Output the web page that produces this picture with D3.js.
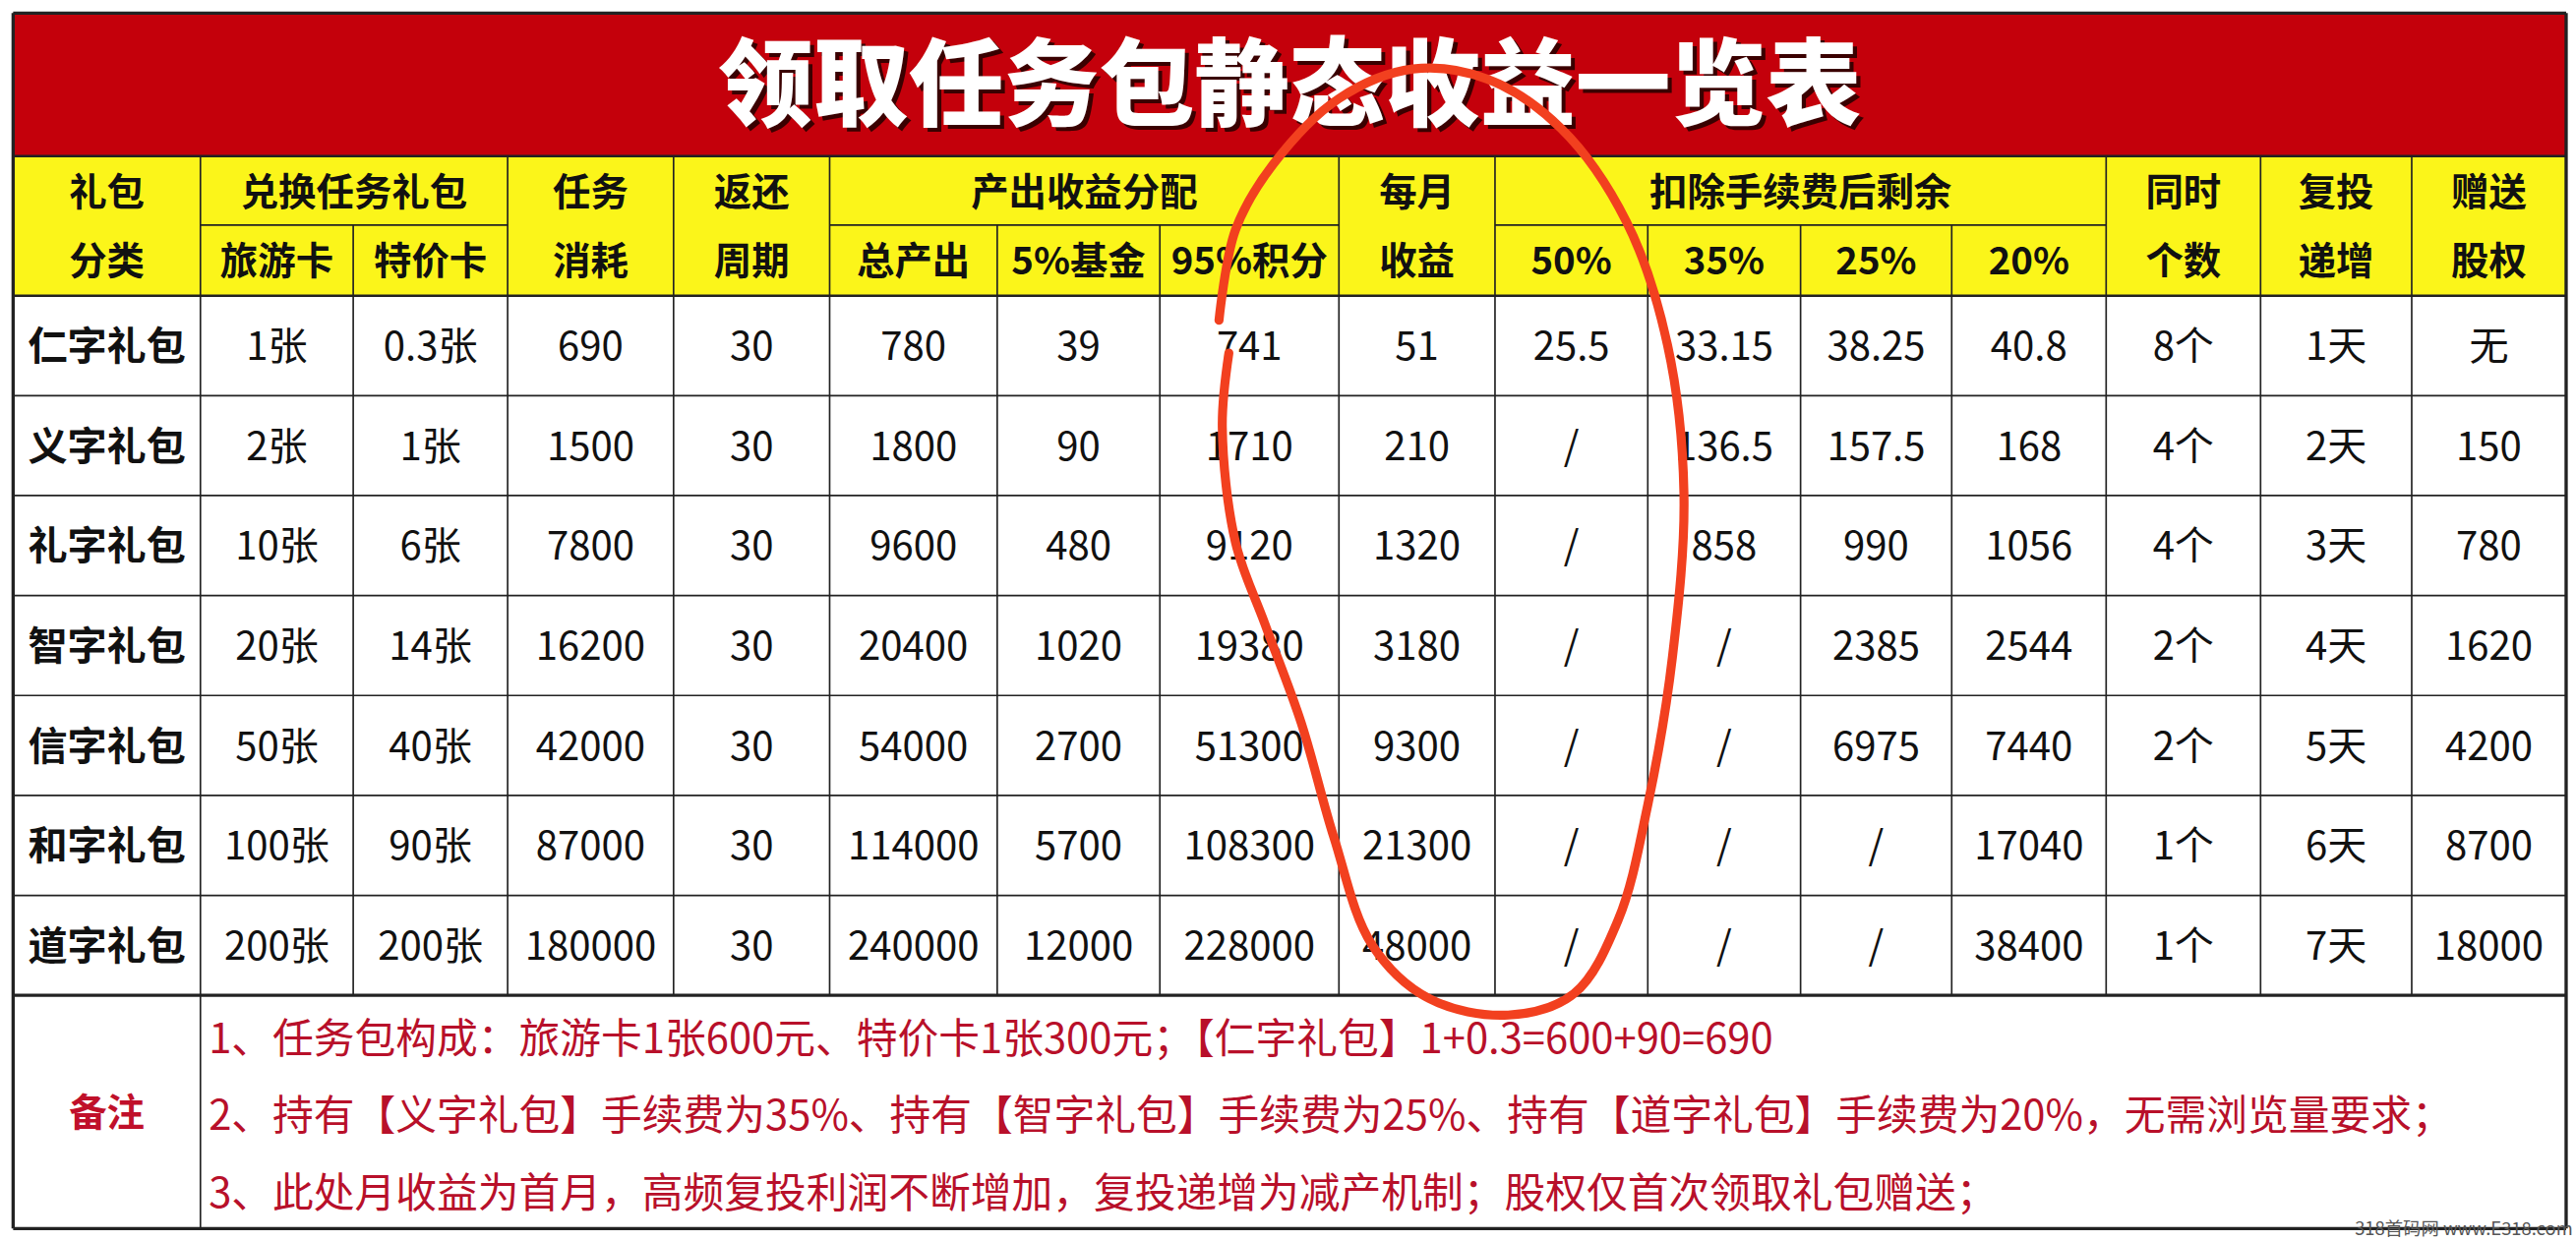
<!DOCTYPE html>
<html><head><meta charset="utf-8">
<script src="https://cdn.jsdelivr.net/npm/d3@7"></script>
<style>body{margin:0;background:#fff}svg{display:block}</style>
</head><body>
<script>
// data
const title = "领取任务包静态收益一览表";
const packages = ["仁字礼包","义字礼包","礼字礼包","智字礼包","信字礼包","和字礼包","道字礼包"];
const travelCard = ["1张","2张","10张","20张","50张","100张","200张"];
const specialCard = ["0.3张","1张","6张","14张","40张","90张","200张"];
const taskCost = ["690","1500","7800","16200","42000","87000","180000"];
const cycle = ["30","30","30","30","30","30","30"];
const totalOut = ["780","1800","9600","20400","54000","114000","240000"];
const fund5 = ["39","90","480","1020","2700","5700","12000"];
const points95 = ["741","1710","9120","19380","51300","108300","228000"];
const monthly = ["51","210","1320","3180","9300","21300","48000"];
const fee50 = ["25.5","/","/","/","/","/","/"];
const fee35 = ["33.15","136.5","858","/","/","/","/"];
const fee25 = ["38.25","157.5","990","2385","6975","/","/"];
const fee20 = ["40.8","168","1056","2544","7440","17040","38400"];
const count = ["8个","4个","4个","2个","2个","1个","1个"];
const reinvest = ["1天","2天","3天","4天","5天","6天","7天"];
const equity = ["无","150","780","1620","4200","8700","18000"];
const notes = [
  "1、任务包构成：旅游卡1张600元、特价卡1张300元；【仁字礼包】1+0.3=600+90=690",
  "2、持有【义字礼包】手续费为35%、持有【智字礼包】手续费为25%、持有【道字礼包】手续费为20%，无需浏览量要求；",
  "3、此处月收益为首月，高频复投利润不断增加，复投递增为减产机制；股权仅首次领取礼包赠送；"
];
const columns = [packages,travelCard,specialCard,taskCost,cycle,totalOut,fund5,points95,monthly,fee50,fee35,fee25,fee20,count,reinvest,equity];

// layout (in reference units, scaled up)
const S = 2619/1568;
const colEdges = [8,122,215,309,410,505,607,706,815,910,1003,1096,1188,1282,1376,1468,1562];
const yTitle = [8,95], yH1 = 137, yH2 = 180, yRowsEnd = 606, yEnd = 748;
const font = "'Noto Sans CJK SC','Noto Sans',sans-serif";

const svg = d3.select("body").append("svg").attr("width",2619).attr("height",1262);
const g = svg.append("g").attr("transform",`scale(${S})`);

const y = d3.scaleBand().domain(packages).range([yH2,yRowsEnd]);
const L = colEdges[0], R = colEdges[colEdges.length-1];

// backgrounds
g.append("rect").attr("x",L).attr("y",yTitle[0]).attr("width",R-L).attr("height",yTitle[1]-yTitle[0]).attr("fill","#c4000b");
g.append("rect").attr("x",L).attr("y",yTitle[1]).attr("width",R-L).attr("height",yH2-yTitle[1]).attr("fill","#fbf51a");

// title
g.append("text").attr("x",(L+R)/2+2.5).attr("y",74.5).attr("text-anchor","middle")
  .style("font-family",font).style("font-weight",900).style("font-size","58px").attr("fill","#3a0000").text(title);
g.append("text").attr("x",(L+R)/2).attr("y",72).attr("text-anchor","middle")
  .style("font-family",font).style("font-weight",900).style("font-size","58px").attr("fill","#fff").text(title);

// header cells
const cx = i => (colEdges[i]+colEdges[i+1])/2;
const spanX = (a,b) => (colEdges[a]+colEdges[b+1])/2;
const hdr = [];
[[0,"礼包","分类"],[3,"任务","消耗"],[4,"返还","周期"],[8,"每月","收益"],[13,"同时","个数"],[14,"复投","递增"],[15,"赠送","股权"]]
  .forEach(([i,a,b]) => { hdr.push({x:cx(i),y:117,t:a}); hdr.push({x:cx(i),y:159,t:b}); });
hdr.push({x:spanX(1,2),y:117,t:"兑换任务礼包"});
hdr.push({x:spanX(5,7),y:117,t:"产出收益分配"});
hdr.push({x:spanX(9,12),y:117,t:"扣除手续费后剩余"});
["旅游卡","特价卡"].forEach((t,k)=>hdr.push({x:cx(1+k),y:159,t}));
["总产出","5%基金","95%积分"].forEach((t,k)=>hdr.push({x:cx(5+k),y:159,t}));
["50%","35%","25%","20%"].forEach((t,k)=>hdr.push({x:cx(9+k),y:159,t}));
g.selectAll("text.h").data(hdr).join("text").attr("class","h")
  .attr("x",d=>d.x).attr("y",d=>d.y).attr("dy","0.35em").attr("text-anchor","middle")
  .style("font-family",font).style("font-weight",700).style("font-size","23px").attr("fill","#111").text(d=>d.t);

// body cells
columns.forEach((col,ci) => {
  g.selectAll(null).data(col).join("text")
    .attr("x",cx(ci)).attr("y",(d,ri)=>y(packages[ri])+y.bandwidth()/2).attr("dy","0.36em")
    .attr("text-anchor","middle").style("font-family",font)
    .style("font-weight",ci===0?700:400).style("font-size","24px")
    .attr("fill","#111").text(d=>d);
});

// grid lines
const line = (x1,y1,x2,y2,w) => g.append("line").attr("x1",x1).attr("y1",y1).attr("x2",x2).attr("y2",y2).attr("stroke","#222").attr("stroke-width",w||1);
line(L,yTitle[0],R,yTitle[0],2); line(L,yTitle[1],R,yTitle[1],1.5);
line(colEdges[1],yH1,colEdges[3],yH1); line(colEdges[5],yH1,colEdges[8],yH1); line(colEdges[9],yH1,colEdges[13],yH1);
packages.forEach(p=>line(L,y(p),R,y(p),p===packages[0]?1.5:1));
line(L,yRowsEnd,R,yRowsEnd,2); line(L,yEnd,R,yEnd,2);
colEdges.forEach((x,i)=>{
  const top = (i===2||i===6||i===7||i===10||i===11||i===12)?yH1:yTitle[1];
  if(i===0||i===colEdges.length-1){ line(x,yTitle[0],x,yEnd,2); }
  else { line(x,top,x,yRowsEnd); }
});
line(colEdges[1],yRowsEnd,colEdges[1],yEnd);

// notes
g.append("text").attr("x",cx(0)).attr("y",(yRowsEnd+yEnd)/2).attr("dy","0.36em").attr("text-anchor","middle")
  .style("font-family",font).style("font-weight",700).style("font-size","23px").attr("fill","#c0102a").text("备注");
g.selectAll("text.n").data(notes).join("text").attr("class","n")
  .attr("x",colEdges[1]+5).attr("y",(d,i)=>632+i*47).attr("dy","0.36em")
  .style("font-family",font).style("font-size","25px").attr("fill","#b8102a").text(d=>d);

// hand-drawn annotation loop
const loop = [[742,195],[752,140],[775,100],[815,60],[860,42],[905,48],[950,78],[990,135],[1015,210],[1025,300],[1018,400],[1003,490],[985,560],[958,605],[918,618],[870,608],[835,575],[812,510],[792,440],[770,380],[752,330],[744,260],[748,215]];
g.append("path").attr("d",d3.line().curve(d3.curveCatmullRom)(loop))
  .attr("fill","none").attr("stroke","#f2401f").attr("stroke-width",5.5).attr("stroke-linecap","round");

// watermark
g.append("text").attr("x",1566).attr("y",752).attr("text-anchor","end")
  .style("font-family",font).style("font-size","11px").attr("fill","#555").text("318首码网 www.E318.com");
</script>
</body></html>
